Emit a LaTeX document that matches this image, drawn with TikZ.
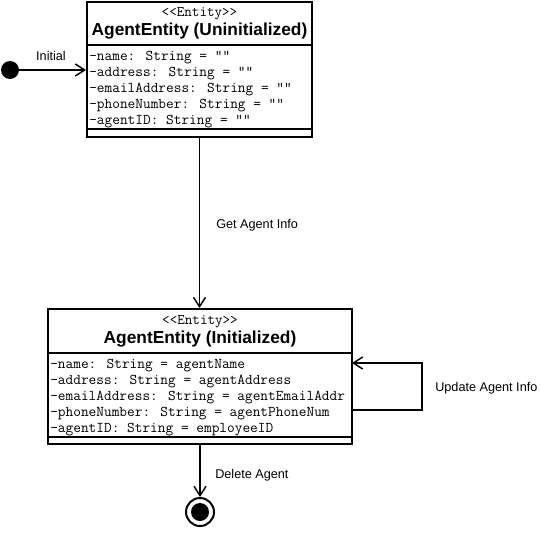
\documentclass[tikz,border=0pt]{standalone}
\usepackage{fontspec}
\setmainfont{Liberation Sans}
\usetikzlibrary{arrows.meta}
\def\px{0.75pt}
\tikzset{
  entity/.style={draw, line width=1.5pt, inner sep=0pt},
  divider/.style={line width=1.5pt},
  stereo/.style={font=\ttfamily\fontsize{11}{12}\selectfont, inner sep=0pt},
  title/.style={font=\bfseries\fontsize{13}{15}\selectfont, inner sep=0pt},
  attr/.style={font=\ttfamily\fontsize{11.2}{13}\selectfont, anchor=base west, inner sep=0pt},
  label/.style={font=\fontsize{9.5}{11}\selectfont, inner sep=0pt},
  flow/.style={line width=1.1pt, -{Straight Barb[length=7pt,width=9pt]}}
}

\begin{document}
\begin{tikzpicture}[x=\px, y=-\px]
				%%%%% START %%%%%
				\useasboundingbox (0,0) rectangle (541,532);

				% uninitialized entity
				\node[entity, minimum width=225*\px, minimum height=135*\px] (uninit) at (199.5,69.5) {};
				\draw[divider] (uninit.west |- 0,45) -- (uninit.east |- 0,45);
				\draw[divider] (uninit.west |- 0,129) -- (uninit.east |- 0,129);
				\node[stereo] (uninitstereo) at (199.5,14) {<<Entity>>};
				\node[title] (uninittitle) at (199.5,31.5) {AgentEntity (Uninitialized)};
				\node[attr] (uname) at (89,60) {-name: String = ""};
				\node[attr] (uaddress) at (89,76) {-address: String = ""};
				\node[attr] (uemail) at (89,92) {-emailAddress: String = ""};
				\node[attr] (uphone) at (89,108) {-phoneNumber: String = ""};
				\node[attr] (uid) at (89,124) {-agentID: String = ""};

				% initialized entity
				\node[entity, minimum width=304*\px, minimum height=135*\px] (init) at (200,376.5) {};
				\draw[divider] (init.west |- 0,353) -- (init.east |- 0,353);
				\draw[divider] (init.west |- 0,437) -- (init.east |- 0,437);
				\node[stereo] (initstereo) at (200,322) {<<Entity>>};
				\node[title] (inittitle) at (200,339.5) {AgentEntity (Initialized)};
				\node[attr] (iname) at (50,368) {-name: String = agentName};
				\node[attr] (iaddress) at (50,384) {-address: String = agentAddress};
				\node[attr] (iemail) at (50,400) {-emailAddress: String = agentEmailAddr};
				\node[attr] (iphone) at (50,416) {-phoneNumber: String = agentPhoneNum};
				\node[attr] (iid) at (50,432) {-agentID: String = employeeID};

				% start and end
				\node[circle, fill=black, minimum size=18*\px, inner sep=0pt] (start) at (10,70) {};
				\node[circle, draw, line width=1.5pt, minimum size=28*\px, inner sep=0pt] (final) at (200,512) {};
				\node[circle, fill=black, minimum size=18*\px, inner sep=0pt] (finaldot) at (final) {};

				% transitions
				\draw[flow] (start) -- (uninit.west |- start);
				\node[label] (initial) at (51,56) {Initial};

				\draw[flow] (uninit.south) -- (uninit.south |- init.north);
				\node[label, anchor=west] (getinfo) at (216,225) {Get Agent Info};

				\coordinate (selfout) at (352,410);
				\coordinate (selfin) at (352,363);
				\draw[line width=1.1pt] (selfout) -- ++(70,0) |- (selfin);
				\draw[flow] (360,363) -- (selfin);
				\node[label, anchor=west] (update) at (435,388) {Update Agent Info};

				\draw[flow] (init.south) -- (final.north);
				\node[label, anchor=west] (delete) at (215,475) {Delete Agent};
				%%%%% END %%%%%
\end{tikzpicture}
\end{document}
